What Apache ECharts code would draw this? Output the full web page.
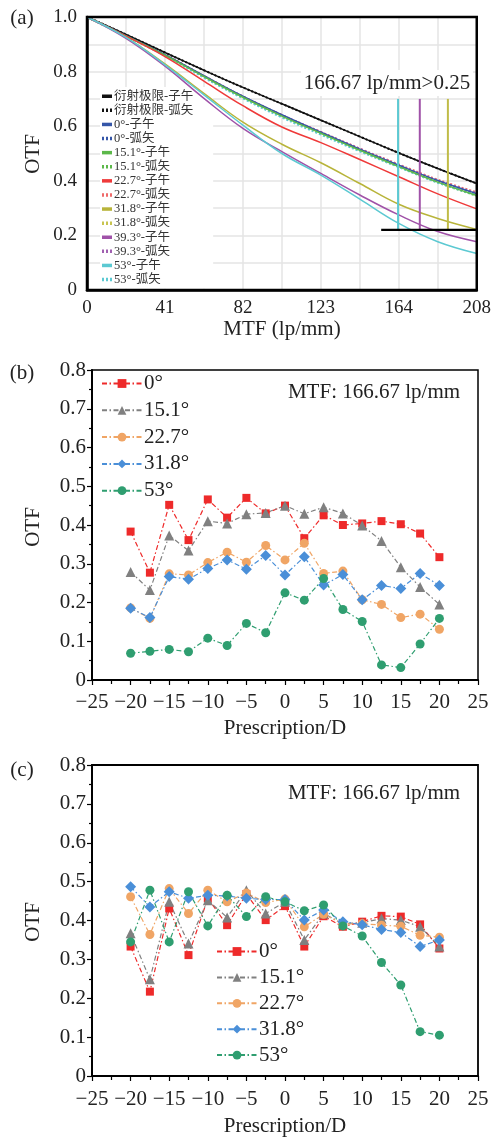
<!DOCTYPE html>
<html>
<head>
<meta charset="utf-8">
<script src="https://cdn.jsdelivr.net/npm/echarts/dist/echarts.min.js"></script>
<style>
html, body { margin: 0; padding: 0; background: #fff; }
#chart { width: 494px; height: 1142px; }
</style>
</head>
<body>
<div id="chart"></div>
<script>
// ---- (a) MTF 曲线 ----
const mtfFreq = [0, 20.8, 41.6, 62.4, 83.2, 104, 124.8, 145.6, 166.4, 187.2, 208]
const mtfTickLabels = ['0', '41', '82', '123', '164', '208']
const diffT = [1, 0.936, 0.87, 0.805, 0.742, 0.682, 0.622, 0.562, 0.502, 0.445, 0.39]
const diffS = [1, 0.936, 0.87, 0.805, 0.742, 0.682, 0.622, 0.562, 0.502, 0.445, 0.39]
const deg0T = [1, 0.932, 0.862, 0.785, 0.71, 0.642, 0.578, 0.516, 0.457, 0.401, 0.353]
const deg0S = [1, 0.932, 0.861, 0.783, 0.708, 0.64, 0.577, 0.515, 0.456, 0.399, 0.352]
const deg15T = [1, 0.931, 0.86, 0.782, 0.706, 0.637, 0.574, 0.512, 0.452, 0.395, 0.346]
const deg15S = [1, 0.931, 0.86, 0.781, 0.705, 0.636, 0.573, 0.511, 0.451, 0.394, 0.345]
const deg22T = [1, 0.93, 0.855, 0.765, 0.675, 0.597, 0.54, 0.478, 0.415, 0.352, 0.297]
const deg22S = [1, 0.932, 0.862, 0.784, 0.709, 0.641, 0.579, 0.518, 0.46, 0.404, 0.358]
const deg31T = [1, 0.925, 0.828, 0.72, 0.615, 0.534, 0.466, 0.39, 0.314, 0.262, 0.222]
const deg31S = [1, 0.931, 0.86, 0.782, 0.707, 0.638, 0.575, 0.514, 0.455, 0.398, 0.352]
const deg39T = [1, 0.922, 0.82, 0.702, 0.592, 0.507, 0.427, 0.348, 0.275, 0.214, 0.177]
const deg39S = [1, 0.932, 0.861, 0.783, 0.708, 0.64, 0.578, 0.517, 0.458, 0.401, 0.355]
const deg53T = [1, 0.925, 0.825, 0.715, 0.604, 0.5, 0.421, 0.333, 0.244, 0.177, 0.134]
const deg53S = [1, 0.93, 0.858, 0.778, 0.702, 0.632, 0.569, 0.508, 0.45, 0.393, 0.348]
// 竖线 / 横线 (lp/mm, OTF)
const markFreq = [166, 177.6, 192.6]
const markTop = 0.7
const markBottom = 0.22
const baseFrom = 157
const baseTo = 208

// ---- (b)(c) 不同屈光度 ----
const prescription = [-20, -17.5, -15, -12.5, -10, -7.5, -5, -2.5, 0, 2.5, 5, 7.5, 10, 12.5, 15, 17.5, 20]
const angleNames = ['0°', '15.1°', '22.7°', '31.8°', '53°']
const b0 = [0.383, 0.277, 0.452, 0.361, 0.466, 0.419, 0.47, 0.43, 0.45, 0.366, 0.425, 0.4, 0.404, 0.41, 0.402, 0.378, 0.317]
const b15 = [0.279, 0.232, 0.373, 0.334, 0.41, 0.404, 0.428, 0.431, 0.45, 0.429, 0.446, 0.43, 0.399, 0.359, 0.291, 0.24, 0.195]
const b22 = [0.186, 0.159, 0.274, 0.271, 0.303, 0.33, 0.304, 0.347, 0.31, 0.353, 0.275, 0.281, 0.207, 0.195, 0.161, 0.17, 0.131]
const b31 = [0.185, 0.161, 0.267, 0.26, 0.288, 0.31, 0.286, 0.321, 0.271, 0.318, 0.245, 0.272, 0.207, 0.244, 0.236, 0.275, 0.244]
const b53 = [0.069, 0.074, 0.079, 0.073, 0.108, 0.089, 0.146, 0.122, 0.225, 0.206, 0.262, 0.182, 0.151, 0.039, 0.032, 0.093, 0.159]
const c0 = [0.333, 0.217, 0.431, 0.311, 0.457, 0.388, 0.468, 0.401, 0.437, 0.333, 0.411, 0.384, 0.397, 0.412, 0.41, 0.39, 0.328]
const c15 = [0.367, 0.249, 0.448, 0.341, 0.452, 0.408, 0.478, 0.418, 0.448, 0.35, 0.418, 0.392, 0.394, 0.405, 0.401, 0.384, 0.333]
const c22 = [0.461, 0.364, 0.482, 0.418, 0.478, 0.448, 0.471, 0.446, 0.455, 0.384, 0.416, 0.391, 0.392, 0.388, 0.385, 0.362, 0.357]
const c31 = [0.487, 0.435, 0.474, 0.457, 0.465, 0.463, 0.457, 0.454, 0.454, 0.401, 0.427, 0.397, 0.389, 0.377, 0.369, 0.333, 0.35]
const c53 = [0.345, 0.478, 0.345, 0.474, 0.386, 0.465, 0.41, 0.461, 0.448, 0.425, 0.44, 0.386, 0.36, 0.292, 0.234, 0.114, 0.105]

const serif = "'Liberation Serif', 'Times New Roman', serif"
const chart = echarts.init(document.getElementById('chart'))

function curve(name, vals, color, dotted) {
  return {
    type: 'line', name: name, xAxisIndex: 0, yAxisIndex: 0,
    data: mtfFreq.map((f, i) => [f, vals[i]]),
    smooth: 0.4, symbol: 'none', z: 3,
    lineStyle: { color: color, width: dotted ? 2 : 1.5, type: dotted ? 'dotted' : 'solid' },
    itemStyle: { color: color },
  }
}
function segment(pts, color, width) {
  return {
    type: 'line', xAxisIndex: 0, yAxisIndex: 0, data: pts, symbol: 'none', z: 4,
    lineStyle: { color: color, width: width }, silent: true,
  }
}
const ptColors = ['#ee2a2a', '#808080', '#f0a565', '#4a8fd8', '#2f9e70']
const ptSymbols = ['rect', 'triangle', 'circle', 'diamond', 'circle']
const ptSizes = [8, 10, 9, 11, 9]
function points(k, vals, gi) {
  return {
    type: 'line', name: angleNames[k], xAxisIndex: gi, yAxisIndex: gi,
    data: prescription.map((p, i) => [p, vals[i]]),
    symbol: ptSymbols[k], symbolSize: ptSizes[k],
    lineStyle: { color: ptColors[k], width: 1.2, type: [5, 2.5, 1.5, 2.5] },
    itemStyle: { color: ptColors[k] },
  }
}

const aNames = ['衍射极限-子午', '衍射极限-弧矢', '0°-子午', '0°-弧矢', '15.1°-子午', '15.1°-弧矢', '22.7°-子午', '22.7°-弧矢',
  '31.8°-子午', '31.8°-弧矢', '39.3°-子午', '39.3°-弧矢', '53°-子午', '53°-弧矢']
const aColors = ['#111', '#111', '#3556a8', '#3556a8', '#5cb84a', '#5cb84a', '#ef3a3a', '#ef6a6a',
  '#b8b43a', '#c8c450', '#a052a8', '#a060b0', '#5cc9d2', '#5cc9d2']
const aData = [diffT, diffS, deg0T, deg0S, deg15T, deg15S, deg22T, deg22S, deg31T, deg31S, deg39T, deg39S, deg53T, deg53S]
const solidIcon = 'path://M0,0h10v3.5h-10z'
const dottedIcon = 'path://M0,0h2v3.5h-2zM4,0h2v3.5h-2zM8,0h2v3.5h-2z'

const seriesA = []
// 弧矢 (dotted) first, solid on top
aNames.forEach((n, i) => { if (i % 2 === 1) seriesA.push(curve(n, aData[i], aColors[i], true)) })
aNames.forEach((n, i) => { if (i % 2 === 0) seriesA.push(curve(n, aData[i], aColors[i], false)) })
seriesA.push(segment([[markFreq[0], markTop], [markFreq[0], markBottom]], '#5cc9d2', 2))
seriesA.push(segment([[markFreq[1], markTop], [markFreq[1], markBottom]], '#a052a8', 2))
seriesA.push(segment([[markFreq[2], markTop], [markFreq[2], markBottom]], '#c0bc48', 2))
seriesA.push(segment([[baseFrom, markBottom], [baseTo, markBottom]], '#000', 2.2))

const seriesB = [b0, b15, b22, b31, b53].map((v, k) => points(k, v, 1))
const seriesC = [c0, c15, c22, c31, c53].map((v, k) => points(k, v, 2))

function minus(v) { return v < 0 ? '\u2212' + Math.abs(v) : String(v) }
function yFmt(v) { return v === 0 ? '0' : v.toFixed(1) }

function presX(gi, margin) {
  return {
    gridIndex: gi, type: 'value', min: -25, max: 25, interval: 5,
    axisLine: { onZero: false, lineStyle: { color: '#000', width: 2 } },
    axisTick: { show: true, inside: false, length: 5, lineStyle: { color: '#000', width: 1.2 } },
    minorTick: { show: true, splitNumber: 2, length: 4, lineStyle: { color: '#000', width: 1.2 } },
    axisLabel: { formatter: minus, color: '#222', fontFamily: serif, fontSize: 21, margin: margin },
    splitLine: { show: false },
  }
}
function otfY(gi) {
  return {
    gridIndex: gi, type: 'value', min: 0, max: 0.8, interval: 0.1,
    axisLine: { show: true, onZero: false, lineStyle: { color: '#000', width: 2 } },
    axisTick: { show: true, length: 5, lineStyle: { color: '#000', width: 1.2 } },
    minorTick: { show: true, splitNumber: 2, length: 3, lineStyle: { color: '#000', width: 1.2 } },
    axisLabel: { formatter: yFmt, color: '#222', fontFamily: serif, fontSize: 21, margin: 6 },
    splitLine: { show: false },
  }
}
function ptLegend(left, top, gap) {
  return {
    data: angleNames, orient: 'vertical', left: left, top: top, padding: 0,
    itemWidth: 40, itemHeight: 11, itemGap: gap, selectedMode: false,
    textStyle: { color: '#222', fontFamily: serif, fontSize: 21, padding: [0, 0, 0, -3] },
  }
}
function txt(x, y, text, size, rot) {
  return {
    type: 'text', x: x, y: y, rotation: rot || 0, z: 20,
    style: { text: text, font: size + 'px ' + serif, fill: '#222', textAlign: 'center', textVerticalAlign: 'middle' },
  }
}

const option = {
  animation: false,
  backgroundColor: '#fff',
  grid: [
    { left: 87, top: 17, width: 390, height: 273, show: true, borderColor: '#000', borderWidth: 2.5, z: 5 },
    { left: 92, top: 370, width: 386, height: 310, show: true, borderColor: '#000', borderWidth: 1.5 },
    { left: 92, top: 765, width: 386, height: 311, show: true, borderColor: '#000', borderWidth: 1.8 },
  ],
  xAxis: [
    {
      gridIndex: 0, type: 'value', min: 0, max: 208, interval: 20.8,
      axisLine: { onZero: false, lineStyle: { color: '#000', width: 2.5 } },
      axisTick: { show: false },
      axisLabel: {
        color: '#222', fontFamily: serif, fontSize: 19, margin: 9,
        formatter: (v) => { const k = Math.round(v / 20.8); return k % 2 === 0 ? mtfTickLabels[k / 2] : '' },
      },
      splitLine: { show: true, lineStyle: { color: '#e4e4e4', width: 1.5 } },
    },
    presX(1, 12), presX(2, 13),
  ],
  yAxis: [
    {
      gridIndex: 0, type: 'value', min: 0, max: 1, interval: 0.1,
      axisLine: { show: true, onZero: false, lineStyle: { color: '#000', width: 2.5 } },
      axisTick: { show: false },
      axisLabel: {
        color: '#222', fontFamily: serif, fontSize: 19, margin: 10,
        formatter: (v) => (Math.round(v * 10) % 2 ? '' : yFmt(v)),
      },
      splitLine: { show: true, lineStyle: { color: '#e4e4e4', width: 1.5 } },
    },
    otfY(1), otfY(2),
  ],
  legend: [
    {
      data: aNames.map((n, i) => ({ name: n, icon: i % 2 ? dottedIcon : solidIcon })),
      orient: 'vertical', left: 100, top: 87, z: 1,
      backgroundColor: '#fff', padding: [3, 20, 3, 2],
      itemWidth: 10, itemHeight: 12, itemGap: 1.6, selectedMode: false, symbolKeepAspect: true,
      textStyle: { color: '#333', fontFamily: "'Liberation Serif', 'Noto Sans CJK SC', serif", fontSize: 12.5, padding: [0, 0, 0, -3] },
    },
    ptLegend(101, 373, 5.8),
    ptLegend(216, 941, 4.9),
  ],
  graphic: [
    { type: 'rect', shape: { x: 301, y: 70, width: 172, height: 26 }, style: { fill: '#fff' }, z: 10 },
    txt(387, 83, '166.67 lp/mm>0.25', 21),
    txt(22, 18, '(a)', 21),
    txt(33, 154, 'OTF', 21, Math.PI / 2),
    txt(282, 329, 'MTF (lp/mm)', 21),
    txt(22, 373, '(b)', 21),
    txt(33, 527, 'OTF', 21, Math.PI / 2),
    txt(374, 392, 'MTF: 166.67 lp/mm', 21),
    txt(285, 728, 'Prescription/D', 21),
    txt(22, 770, '(c)', 21),
    txt(33, 922, 'OTF', 21, Math.PI / 2),
    txt(374, 793, 'MTF: 166.67 lp/mm', 21),
    txt(285, 1126, 'Prescription/D', 21),
  ],
  series: seriesA.concat(seriesB, seriesC),
}
chart.setOption(option)
</script>
</body>
</html>
